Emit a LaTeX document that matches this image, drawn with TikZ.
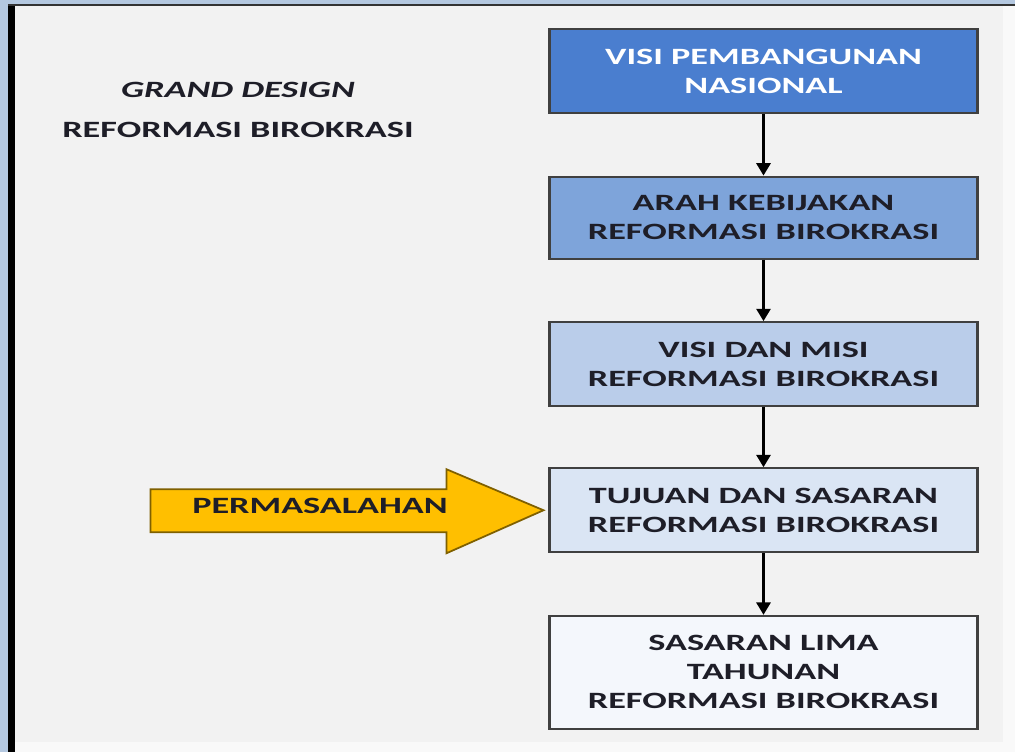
\documentclass[tikz,border=0pt]{standalone}
\usepackage{fontspec}
\newfontfamily\rbfont[FakeStretch=1.55]{Carlito}
\usetikzlibrary{positioning,arrows.meta}

\definecolor{bgGray}{HTML}{F2F2F2}
\definecolor{frameBlue}{HTML}{B4C8E0}
\definecolor{boxLine}{HTML}{404040}
\definecolor{visiBlue}{HTML}{4A7ECF}
\definecolor{arahBlue}{HTML}{7EA4DA}
\definecolor{misiBlue}{HTML}{BACDEA}
\definecolor{tujuanBlue}{HTML}{DAE5F4}
\definecolor{limaBlue}{HTML}{F4F7FC}
\definecolor{masalahGold}{HTML}{FFBF00}
\definecolor{masalahLine}{HTML}{7F6000}
\definecolor{textDark}{HTML}{1E1E28}

\tikzset{
  rbfont/.style={font=\rbfont\bfseries\fontsize{13.3}{16.5}\selectfont},
  rbbox/.style={rbfont, draw=boxLine, line width=1.2pt, minimum width=8.56cm,
    minimum height=1.68cm, align=center, text=textDark, inner sep=0pt},
  flowarrow/.style={line width=1.4pt, -{Triangle[width=8pt,length=7pt]}},
  masalaharrow/.style={fill=masalahGold, draw=masalahLine, line width=1pt, line join=miter},
}

\begin{document}
\begin{tikzpicture}[x=0.02cm, y=-0.02cm, node distance=1.23cm]
  \useasboundingbox (0,0) rectangle (1015,752);
  % background and frame
  \fill[bgGray] (0,0) rectangle (1015,752);
  \fill[white!50!bgGray] (1003,6) rectangle (1015,752);
  \fill[white!50!bgGray] (15,742) rectangle (1003,752);
  \fill[frameBlue] (0,0) rectangle (8,752);
  \fill[frameBlue] (0,0) rectangle (1015,4);
  \fill[black] (8,4) rectangle (15,752);
  \fill[black!80] (8,4) rectangle (1015,6);

  % title
  \node[rbfont, align=center, text=textDark] (judul) at (238,110)
    {\itshape GRAND DESIGN\\[6pt] REFORMASI BIROKRASI};

  % flow
  \node[rbbox, fill=visiBlue, text=white] (visi) at (763.5,71) {VISI PEMBANGUNAN\\ NASIONAL};
  \node[rbbox, fill=arahBlue, minimum height=1.64cm, below=of visi] (arah) {ARAH KEBIJAKAN\\ REFORMASI BIROKRASI};
  \node[rbbox, fill=misiBlue, below=of arah] (misi) {VISI DAN MISI\\ REFORMASI BIROKRASI};
  \node[rbbox, fill=tujuanBlue, below=1.2cm of misi] (tujuan) {TUJUAN DAN SASARAN\\ REFORMASI BIROKRASI};
  \node[rbbox, fill=limaBlue, minimum height=2.26cm, below=of tujuan] (lima) {SASARAN LIMA\\ TAHUNAN\\ REFORMASI BIROKRASI};

  \draw[flowarrow] (visi) -- (arah);
  \draw[flowarrow] (arah) -- (misi);
  \draw[flowarrow] (misi) -- (tujuan);
  \draw[flowarrow] (tujuan) -- (lima);

  % problem arrow
  \draw[masalaharrow] ([xshift=-0.1cm]tujuan.west) coordinate (tip)
    -- ++(-97,-41) -- ++(0,20) -- ++(-296,0) -- ++(0,43) -- ++(296,0) -- ++(0,21) -- cycle;
  \node[rbfont, text=textDark] (masalah) at (320,506) {PERMASALAHAN};
\end{tikzpicture}
\end{document}
